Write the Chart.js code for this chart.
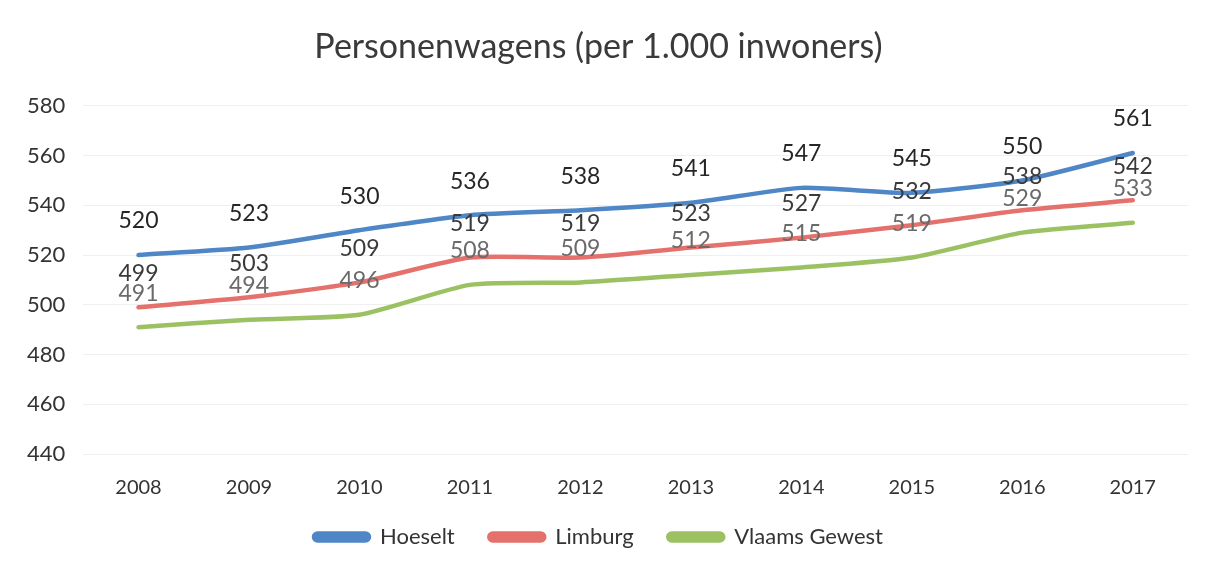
<!DOCTYPE html>
<html>
<head>
<meta charset="utf-8">
<script src="https://cdn.jsdelivr.net/npm/chart.js@4"></script>
<style>
  html, body { margin: 0; padding: 0; background: #fff; }
  #wrap { width: 1214px; height: 570px; }
</style>
</head>
<body>
<div id="wrap"><canvas id="canvas"></canvas></div>
<script>
const years = ['2008', '2009', '2010', '2011', '2012', '2013', '2014', '2015', '2016', '2017'];
const hoeselt = [520, 523, 530, 536, 538, 541, 547, 545, 550, 561];
const limburg = [499, 503, 509, 519, 519, 523, 527, 532, 538, 542];
const vlaams = [491, 494, 496, 508, 509, 512, 515, 519, 529, 533];
const yTicks = [440, 460, 480, 500, 520, 540, 560, 580];

const FONT = 'Lato, "Open Sans", sans-serif';
const labelColors = ['#262626', '#3a3a3a', '#6a6a6a'];

// draws the value above every point
const valueLabels = {
  id: 'valueLabels',
  afterDatasetsDraw(chart) {
    const c = chart.ctx;
    c.save();
    c.font = '23px ' + FONT;
    c.textAlign = 'center';
    c.textBaseline = 'middle';
    chart.data.datasets.forEach((ds, i) => {
      const meta = chart.getDatasetMeta(i);
      c.fillStyle = labelColors[i];
      meta.data.forEach((pt, j) => {
        c.fillText(ds.data[j], pt.x, pt.y - 34);
      });
    });
    c.restore();
  },
};

// legend text with a bit of space after the first two items
const legendLabels = (chart) => {
  const items = Chart.defaults.plugins.legend.labels.generateLabels(chart);
  items.forEach((it, i) => {
    if (i < items.length - 1) it.text = it.text + '    ';
  });
  return items;
};

const ctx = document.getElementById('canvas');
new Chart(ctx, {
  type: 'line',
  data: {
    labels: years,
    datasets: [
      { label: 'Hoeselt', data: hoeselt, borderColor: '#4f86c6', backgroundColor: '#4f86c6' },
      { label: 'Limburg', data: limburg, borderColor: '#e5716c', backgroundColor: '#e5716c' },
      { label: 'Vlaams Gewest', data: vlaams, borderColor: '#9bc163', backgroundColor: '#9bc163' },
    ],
  },
  plugins: [valueLabels],
  options: {
    responsive: true,
    maintainAspectRatio: false,
    animation: false,
    layout: { padding: { left: 9, right: 26, top: 0, bottom: 12 } },
    elements: {
      line: { borderWidth: 4.5, tension: 0.2, borderCapStyle: 'round' },
      point: { radius: 0 },
    },
    plugins: {
      title: {
        display: true,
        text: 'Personenwagens (per 1.000 inwoners)',
        color: '#3a3a3a',
        font: { family: FONT, size: 34, weight: 'normal' },
        padding: { top: 27, bottom: 38 },
      },
      legend: {
        position: 'bottom',
        labels: {
          color: '#333',
          font: { family: FONT, size: 22 },
          boxWidth: 55,
          boxHeight: 7,
          padding: 12,
          useBorderRadius: true,
          borderRadius: 3.5,
          generateLabels: legendLabels,
        },
      },
      tooltip: { enabled: false },
    },
    scales: {
      x: {
        offset: true,
        grid: { display: false },
        border: { display: false },
        ticks: { color: '#333', font: { family: FONT, size: 20 }, padding: 14 },
      },
      y: {
        min: 440,
        max: 580,
        afterBuildTicks: (scale) => { scale.ticks = yTicks.map((v) => ({ value: v })); },
        grid: { color: '#efefef', lineWidth: 1, drawTicks: false },
        border: { display: false },
        ticks: { color: '#333', font: { family: FONT, size: 22 }, padding: 18 },
      },
    },
  },
});
</script>
</body>
</html>
